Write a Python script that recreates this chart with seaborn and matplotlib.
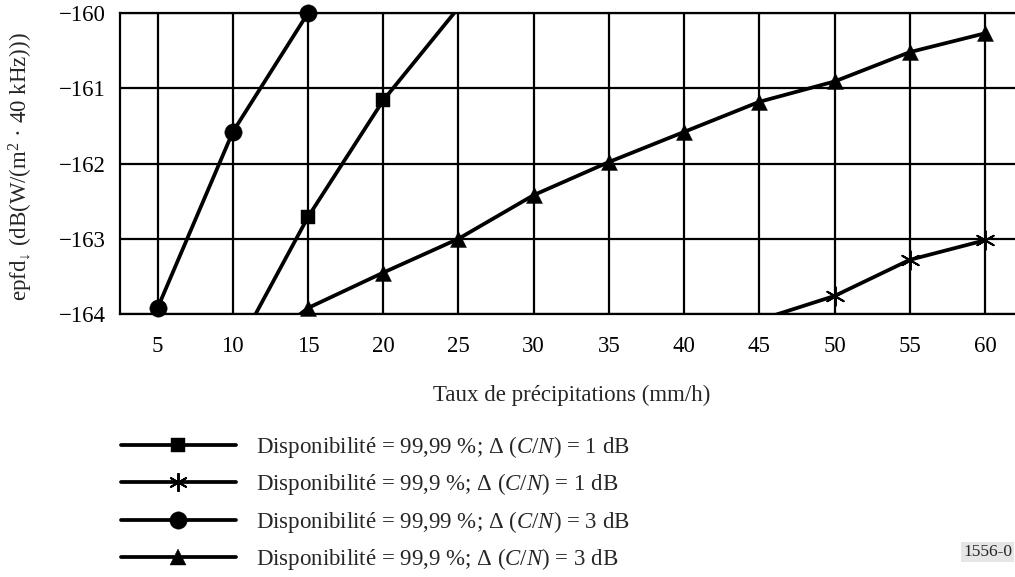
import numpy as np
import pandas as pd
import matplotlib
matplotlib.use("Agg")
import matplotlib.pyplot as plt
from matplotlib.lines import Line2D
import seaborn as sns

# ---- data ----
rain = [5, 10, 15, 20, 25, 30, 35, 40, 45, 50, 55, 60]
x_ticks = [5, 10, 15, 20, 25, 30, 35, 40, 45, 50, 55, 60]
y_ticks = [-164, -163, -162, -161, -160]

sq_x = [10, 15, 20, 25]
sq_y = [-164.56, -162.71, -161.16, -159.93]           # 99,99 %, 1 dB
ast_x = [45, 50, 55, 60]
ast_y = [-164.08, -163.76, -163.28, -163.02]          # 99,9 %, 1 dB
circ_x = [5, 10, 15]
circ_y = [-163.92, -161.58, -160.0]                   # 99,99 %, 3 dB
tri_x = [10, 15, 20, 25, 30, 35, 40, 45, 50, 55, 60]
tri_y = [-164.70, -163.92, -163.45, -163.0, -162.42, -161.98,
         -161.58, -161.18, -160.91, -160.52, -160.27]  # 99,9 %, 3 dB

labels = [
    "Disponibilité = 99,99 %; Δ ($C/N$) = 1 dB",
    "Disponibilité = 99,9 %; Δ ($C/N$) = 1 dB",
    "Disponibilité = 99,99 %; Δ ($C/N$) = 3 dB",
    "Disponibilité = 99,9 %; Δ ($C/N$) = 3 dB",
]
series_x = [sq_x, ast_x, circ_x, tri_x]
series_y = [sq_y, ast_y, circ_y, tri_y]
markers = ["s", (6, 2, 0), "o", "^"]
msizes = [9.5, 13.5, 12.5, 11.5]

# ---- style ----
sns.set_style("white")
plt.rcParams["font.family"] = ["Liberation Serif", "DejaVu Serif"]
plt.rcParams["mathtext.fontset"] = "custom"
plt.rcParams["mathtext.rm"] = "Liberation Serif"
plt.rcParams["mathtext.it"] = "Liberation Serif:italic"
plt.rcParams["axes.unicode_minus"] = True

FS = 16.5
fig = plt.figure(figsize=(10.15, 5.77), dpi=100)
ax = fig.add_axes([120 / 1015, 1 - 314 / 577, (1022.6 - 120) / 1015, (314 - 13) / 577])

LW = 2.7
frames = []
for i, (xs, ys) in enumerate(zip(series_x, series_y)):
    frames.append(pd.DataFrame({"rain": xs, "val": ys, "series": labels[i]}))
df = pd.concat(frames, ignore_index=True)

sns.lineplot(data=df, x="rain", y="val", hue="series", hue_order=labels,
             palette=["black"] * 4, estimator=None, sort=True, legend=False,
             lw=LW, ax=ax, zorder=3)

ymin, ymax = y_ticks[0], y_ticks[-1]
for i, lab in enumerate(labels):
    sub = df[(df.series == lab) & (df.val >= ymin - 1e-6) & (df.val <= ymax + 1e-6)]
    filled = markers[i] != (6, 2, 0)
    sns.scatterplot(x=sub.rain, y=sub.val, marker=markers[i], s=msizes[i] ** 2,
                    color="black", edgecolor="black",
                    linewidth=0.3 if filled else 1.4,
                    ax=ax, clip_on=False, zorder=4, legend=False)

ax.set_xlim(2.5, 62.5)
ax.set_ylim(ymin, ymax)
ax.set_xticks(x_ticks)
ax.set_yticks(y_ticks)
ax.grid(True, color="black", lw=1.6)
for sp in ax.spines.values():
    sp.set_color("black")
    sp.set_linewidth(1.6)
ax.tick_params(axis="both", length=0, labelsize=FS, colors="black")
ax.tick_params(axis="x", pad=16)
ax.tick_params(axis="y", pad=10)

ax.set_xlabel("Taux de précipitations (mm/h)", fontsize=FS, labelpad=20)
ax.set_ylabel(r"epfd$_{\mathrm{↓}}$ (dB(W/(m$^{2}$ · 40 kHz)))", fontsize=FS)
ax.yaxis.set_label_coords(-0.094, 0.49)

handles = [Line2D([], [], color="black", lw=LW, marker=m, markersize=s,
                  markeredgewidth=1.4 if m == (6, 2, 0) else 0.3)
           for m, s in zip(markers, msizes)]
fig.legend(handles, labels, loc="upper left",
           bbox_to_anchor=(121 / 1015, 1 - 434 / 577),
           frameon=False, fontsize=FS, handlelength=5.0, handletextpad=0.9,
           labelspacing=0.5, borderpad=0, borderaxespad=0)

fig.text(963 / 1015, 1 - 552 / 577, "1556-0", fontsize=12.5, va="center", ha="left",
         bbox=dict(boxstyle="square,pad=0.1", fc="#e6e6e6", ec="none"))

fig.savefig("out.png", dpi=100)
